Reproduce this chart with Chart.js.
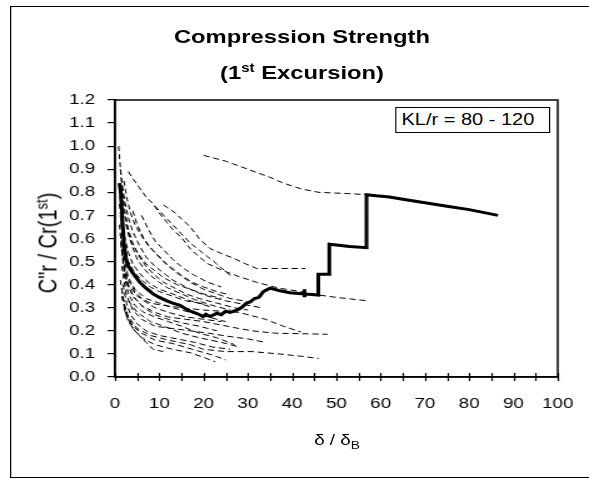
<!DOCTYPE html>
<html lang="en">

<head>
  <meta charset="UTF-8">
  <title>Compression Strength (1st Excursion)</title>
  <script src="https://cdn.jsdelivr.net/npm/chart.js"></script>
  <style>
    body { margin: 0; background: #fff; overflow: hidden; }
    /* the original chart is stretched sideways, so draw narrow and widen */
    #wrap {
      position: absolute; left: 0; top: 0; width: 471px; height: 479px;
      transform: scaleX(1.2505); transform-origin: 0 0;
      font-family: "Liberation Sans", Arial, sans-serif; color: #000;
    }
    #chart { position: absolute; left: 0; top: 0; }
    .frame { position: absolute; left: 8px; top: 6px; width: 480px; height: 472px; border: 1px solid #000; box-sizing: border-box; }
    .ttl { position: absolute; left: 0; width: 483px; text-align: center; font-weight: bold; font-size: 19px; line-height: 19px; white-space: nowrap; }
    .ttl sup { font-size: 12px; line-height: 0; vertical-align: 7px; }
    .kl { position: absolute; left: 316px; top: 107px; width: 124px; height: 26px; box-sizing: border-box; border: 1px solid #000; background: #fff; font-size: 16px; line-height: 24px; padding-left: 4px; white-space: nowrap; }
    .ytitle { position: absolute; left: 38px; top: 243px; transform: translate(-50%, -50%) rotate(-90deg); font-size: 20px; line-height: 20px; white-space: nowrap; }
    .ytitle sup { font-size: 13px; line-height: 0; vertical-align: 7px; }
    .xtitle { position: absolute; left: 0; top: 432px; width: 539px; text-align: center; font-size: 15px; line-height: 15px; white-space: nowrap; }
    .xtitle sub { font-size: 11px; line-height: 0; vertical-align: -4px; }
  </style>
</head>

<body>
  <div id="wrap">
    <div class="frame"></div>
    <canvas id="chart" width="471" height="479"></canvas>
    <div class="ttl" style="top: 27px;">Compression Strength</div>
    <div class="ttl" style="top: 63px;">(1<sup>st</sup> Excursion)</div>
    <div class="kl">KL/r = 80 - 120</div>
    <div class="ytitle">C"r / Cr(1<sup>st</sup>)</div>
    <div class="xtitle">&delta; / &delta;<sub>B</sub></div>
  </div>

  <script>
    // tick labels
    const xTickLabels = ['0', '10', '20', '30', '40', '50', '60', '70', '80', '90', '100'];
    const yTickLabels = ['0.0', '0.1', '0.2', '0.3', '0.4', '0.5', '0.6', '0.7', '0.8', '0.9', '1.0', '1.1', '1.2'];

    // the highlighted specimen (thick solid line), [delta/deltaB, C"r/Cr]
    const thickCurve = [[1, 0.84], [1.3, 0.80], [1.6, 0.70], [2, 0.58], [2.5, 0.51], [3, 0.48], [4, 0.45], [5.6, 0.41],
      [7, 0.385], [8.6, 0.36], [10, 0.345], [11.7, 0.33], [13, 0.32], [14.7, 0.31], [16, 0.295], [17, 0.285],
      [18.5, 0.275], [19.9, 0.262], [20.5, 0.272], [21.5, 0.262], [23, 0.276], [24, 0.27], [25, 0.285], [26, 0.28],
      [27.5, 0.29], [28.5, 0.30], [29.7, 0.32], [30.5, 0.325], [31.5, 0.34], [32.5, 0.345], [33.5, 0.37],
      [35, 0.385], [37, 0.375], [39.5, 0.365], [42.8, 0.36], [42.8, 0.38], [42.8, 0.345], [42.8, 0.36], [45.9, 0.355],
      [45.9, 0.445], [48.4, 0.445], [48.4, 0.575], [51, 0.57], [53, 0.565], [56.8, 0.56], [56.8, 0.79],
      [59, 0.785], [62, 0.78], [65, 0.77], [70, 0.755], [75, 0.74], [80, 0.725], [86.5, 0.70]];

    // other specimens (thin dashed lines)
    const dashA = [[20, 0.96], [25, 0.935], [30, 0.90], [35, 0.865], [38, 0.84], [42, 0.815], [46, 0.80], [52, 0.795], [57, 0.79]];
    const dashB = [[10.9, 0.745], [13, 0.72], [15, 0.685], [17, 0.65], [19, 0.60], [21.4, 0.557], [24, 0.535], [26.7, 0.515], [29.5, 0.49], [32, 0.47], [37, 0.47], [43, 0.47]];
    const dashC = [[3, 0.89], [4, 0.86], [5.5, 0.82], [7, 0.78], [8.6, 0.75], [10, 0.71], [11.7, 0.67], [13, 0.64], [14.7, 0.61], [16, 0.58], [17, 0.555], [19, 0.52], [21, 0.49], [24.5, 0.46], [28, 0.435], [32, 0.41], [37, 0.385], [42, 0.37], [46, 0.355], [50, 0.345], [57, 0.33]];
    const dashD = [[9, 0.74], [11, 0.70], [13, 0.66], [15, 0.62], [17, 0.58], [19, 0.55], [21, 0.52], [23, 0.49], [26, 0.44]];
    const dashE = [[0.8, 1.0], [1.1, 0.93], [1.5, 0.85], [2.2, 0.76], [3, 0.69], [4, 0.63], [5.5, 0.57], [7, 0.52], [9, 0.48], [11, 0.45], [13, 0.42], [15, 0.40], [18, 0.37], [21, 0.35], [25, 0.33], [29, 0.315], [33, 0.30]];
    const dashF = [[1.2, 0.90], [1.6, 0.82], [2.2, 0.72], [3, 0.64], [4, 0.58], [5.5, 0.52], [7, 0.48], [9, 0.44], [11, 0.41], [13, 0.39], [16, 0.36], [19, 0.34], [23, 0.32], [27, 0.30], [30, 0.29]];
    const dashG = [[1.5, 0.80], [2, 0.72], [3, 0.62], [4, 0.56], [5, 0.51], [6.5, 0.47], [8, 0.44], [10, 0.41], [12, 0.385], [15, 0.36], [18, 0.335], [22, 0.31], [26, 0.29]];
    const dashH = [[4, 0.72], [5, 0.66], [6.5, 0.60], [8, 0.56], [10, 0.52], [12, 0.48], [14, 0.45], [17, 0.41], [20, 0.38], [23, 0.36], [26, 0.34], [29, 0.33]];
    const dashI = [[2, 0.85], [2.6, 0.78], [3.5, 0.71], [4.5, 0.66], [6, 0.61], [7.5, 0.57], [9, 0.54], [11, 0.50], [13, 0.47], [15, 0.44], [17.5, 0.41], [20, 0.39], [23, 0.37], [26, 0.355]];
    const dashJ = [[1, 0.75], [1.5, 0.65], [2.2, 0.56], [3, 0.50], [4.5, 0.45], [6, 0.42], [8, 0.39], [10, 0.37], [13, 0.35], [16, 0.33], [19, 0.32], [22, 0.30]];
    const dashK = [[1.2, 0.62], [2, 0.48], [3, 0.40], [5, 0.35], [8, 0.32], [11, 0.31], [15, 0.30], [20, 0.29], [24, 0.285], [28, 0.28], [31, 0.265], [34, 0.25], [38, 0.22], [42, 0.195]];
    const dashL = [[1.5, 0.55], [2.5, 0.42], [4, 0.35], [6, 0.31], [9, 0.28], [12, 0.26], [16, 0.25], [20, 0.24], [24, 0.225], [28, 0.21], [31, 0.20], [36, 0.19], [48, 0.185]];
    const dashM = [[1.5, 0.48], [2.5, 0.36], [4, 0.29], [6, 0.25], [9, 0.22], [13, 0.21], [17, 0.20], [21, 0.19], [26, 0.175], [30, 0.165], [34, 0.15]];
    const dashN = [[1.2, 0.42], [2, 0.32], [3, 0.26], [5, 0.21], [8, 0.18], [12, 0.16], [17, 0.14], [20, 0.12], [25, 0.11], [31, 0.11], [37, 0.10], [42, 0.09], [46, 0.08]];
    const dashO = [[1.5, 0.38], [2.5, 0.28], [4, 0.22], [6, 0.19], [9, 0.16], [13, 0.145], [18, 0.117], [22, 0.095], [25, 0.074]];
    const dashP = [[2, 0.30], [3, 0.24], [4.5, 0.20], [6, 0.17], [9, 0.14], [13, 0.12], [17, 0.105], [20, 0.085], [22.6, 0.066]];
    const dashQ = [[1.5, 0.35], [2.5, 0.27], [4, 0.21], [5.5, 0.18], [7, 0.15], [8.6, 0.12], [10.9, 0.11]];
    const dashR = [[2, 0.45], [3, 0.36], [4.5, 0.31], [6.5, 0.28], [9, 0.26], [12, 0.24], [15, 0.22], [19, 0.19], [23, 0.17], [27, 0.14]];
    const dashS = [[1.2, 0.70], [2, 0.52], [3, 0.43], [4.5, 0.38], [7, 0.34], [10, 0.32], [13, 0.30], [17, 0.28], [21, 0.26], [25, 0.24]];
    const dashT = [[3, 0.33], [5, 0.28], [8, 0.24], [11, 0.22], [15, 0.19], [19, 0.17], [24, 0.15], [28, 0.13]];
    const dashU = [[1, 0.82], [1.4, 0.72], [2, 0.62], [3, 0.54], [4, 0.49], [5.5, 0.45], [7.5, 0.41], [10, 0.38], [13, 0.36], [17, 0.33], [21, 0.31]];
    const dashV = [[1.3, 0.58], [2, 0.46], [3, 0.39], [4.5, 0.34], [6.5, 0.30], [9, 0.27], [12, 0.25], [15, 0.235], [19, 0.22], [23, 0.20]];
    const dashW = [[1.8, 0.40], [2.6, 0.32], [3.5, 0.27], [5, 0.23], [7, 0.20], [10, 0.18], [14, 0.165], [18, 0.15], [22, 0.13], [26, 0.12]];
    const dashX = [[2.5, 0.66], [3.5, 0.59], [5, 0.54], [7, 0.49], [9, 0.46], [11, 0.43], [14, 0.40], [17, 0.38], [20, 0.36], [24, 0.34]];
    const dashY = [[1, 0.66], [1.5, 0.56], [2.2, 0.47], [3, 0.42], [4.5, 0.37], [6.5, 0.33], [9, 0.30], [12, 0.28], [16, 0.26], [20, 0.25], [24, 0.24]];
    const dashZ = [[6, 0.70], [7.5, 0.64], [9, 0.59], [11, 0.55], [13, 0.51], [15.5, 0.47], [18, 0.44], [21, 0.41], [24, 0.39]];

    const dashedCurves = [dashA, dashB, dashC, dashD, dashE, dashF, dashG, dashH, dashI, dashJ, dashK, dashL, dashM,
      dashN, dashO, dashP, dashQ, dashR, dashS, dashT, dashU, dashV, dashW, dashX, dashY, dashZ];

    const toPoints = arr => arr.map(p => ({ x: p[0], y: p[1] }));

    // first dataset is drawn on top
    const datasets = [{
      data: toPoints(thickCurve),
      borderColor: '#000',
      borderWidth: 3,
      borderJoinStyle: 'miter',
    }];
    dashedCurves.forEach(c => {
      datasets.push({
        data: toPoints(c),
        borderColor: '#000',
        borderWidth: 1,
        borderDash: [5, 3],
      });
    });

    // plot box and x ticks that cross the axis
    const boxPlugin = {
      id: 'box',
      afterDraw(chart) {
        const { ctx, chartArea: a, scales: { x } } = chart;
        ctx.save();
        ctx.strokeStyle = '#000';
        ctx.lineWidth = 1.5;
        ctx.strokeRect(a.left, a.top, a.right - a.left, a.bottom - a.top);
        ctx.lineWidth = 1.2;
        x.ticks.forEach(t => {
          const px = Math.round(x.getPixelForValue(t.value)) + 0.5;
          ctx.beginPath();
          ctx.moveTo(px, a.bottom - 4);
          ctx.lineTo(px, a.bottom + 4);
          ctx.stroke();
        });
        ctx.restore();
      }
    };

    const tickFont = { family: '"Liberation Sans", Arial, sans-serif', size: 15 };

    new Chart(document.getElementById('chart'), {
      type: 'scatter',
      data: { datasets },
      options: {
        responsive: false,
        animation: false,
        showLine: true,
        elements: { point: { radius: 0 }, line: { tension: 0 } },
        layout: { padding: { top: 100, right: 25, bottom: 0, left: 0 } },
        plugins: { legend: { display: false }, tooltip: { enabled: false }, title: { display: false } },
        scales: {
          x: {
            type: 'linear',
            min: 0,
            max: 100,
            // fixed plot box: no extra room for the end labels
            afterFit: s => { s.height = 102; s.paddingLeft = 0; s.paddingRight = 0; },
            ticks: {
              stepSize: 5,
              autoSkip: false,
              maxRotation: 0,
              color: '#000',
              font: tickFont,
              padding: 18,
              callback: v => (v % 10 === 0 ? xTickLabels[v / 10] : '')
            },
            grid: { drawOnChartArea: false, drawTicks: false },
            border: { color: '#000', width: 1.5 }
          },
          y: {
            min: 0,
            max: 1.2,
            afterFit: s => { s.width = 92; },
            ticks: {
              stepSize: 0.1,
              color: '#000',
              font: tickFont,
              padding: 10,
              callback: v => yTickLabels[Math.round(v * 10)]
            },
            grid: { drawOnChartArea: false, drawTicks: true, tickLength: 6, color: '#000', lineWidth: 1.2 },
            border: { color: '#000', width: 1.5 }
          }
        }
      },
      plugins: [boxPlugin]
    });
  </script>
</body>

</html>
